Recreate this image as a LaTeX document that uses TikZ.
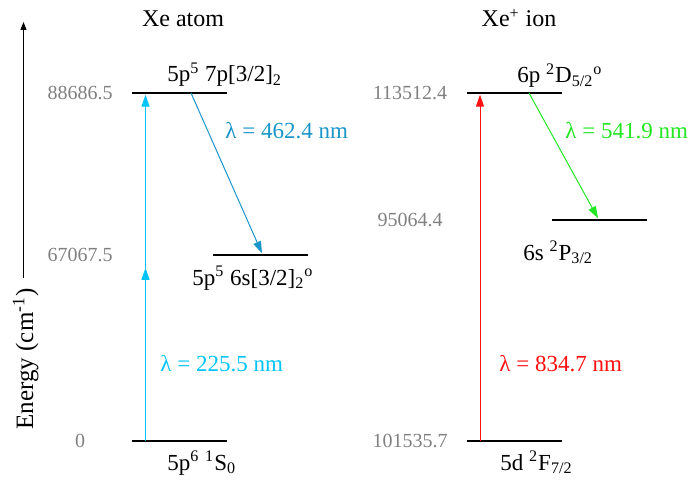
\documentclass[tikz,border=0pt]{standalone}
\usepackage{fontspec}
\setmainfont{Liberation Serif}
\usetikzlibrary{arrows.meta, calc}
\definecolor{uvcyan}{HTML}{00C4F8}
\definecolor{blueline}{HTML}{1A96C8}
\definecolor{irred}{HTML}{FF1010}
\definecolor{visgreen}{HTML}{22E622}
\definecolor{numgray}{HTML}{808080}

\begin{document}
\begin{tikzpicture}[
  x=0.5pt, y=-0.5pt,
  lvl/.style={fill=black, minimum width=47.5pt, minimum height=1.3pt, inner sep=0pt},
  trans/.style={line width=0.5pt, -{Triangle[length=6pt,width=4pt]}},
  energy/.style={font=\fontsize{10}{12}\selectfont, color=numgray, inner sep=0pt},
  state/.style={font=\fontsize{11.5}{13}\selectfont, anchor=base west, inner sep=0pt},
  wave/.style={font=\fontsize{11.5}{13}\selectfont, anchor=base west, inner sep=0pt},
  title/.style={font=\fontsize{12}{14}\selectfont, anchor=base, inner sep=0pt},
]
\useasboundingbox (0,0) rectangle (688,481);

% energy axis
\node[rotate=90, anchor=base, inner sep=0pt, font=\fontsize{12.5}{14}\selectfont]
  (elabel) at (33,359) {Energy (cm\textsuperscript{-1})};
\coordinate (axisbot) at (23.5,278);
\coordinate (axistop) at (23.5,22);
\draw[line width=0.5pt, -{Triangle[length=4pt,width=3pt]}] (axisbot) -- (axistop);

% titles
\node[title] (xetitle) at (183,27) {Xe atom};
\node[title] (iontitle) at (519,27) {Xe\textsuperscript{+} ion};

% Xe atom levels
\node[lvl] (xe0) at (179.5,441) {};
\node[lvl] (xe1) at (260.5,255) {};
\node[lvl] (xe2) at (179.5,93) {};
\node[energy] (e0) at (80,441) {0};
\node[energy] (e1) at (80,255) {67067.5};
\node[energy] (e2) at (80,93) {88686.5};
\node[state] (s0) at (167,470) {5p\textsuperscript{6} \textsuperscript{1}S\textsubscript{0}};
\node[state] (s1) at (192,285) {5p\textsuperscript{5} 6s[3/2]\textsubscript{2}\textsuperscript{o}};
\node[state] (s2) at (167,82) {5p\textsuperscript{5} 7p[3/2]\textsubscript{2}};

% Xe+ ion levels
\node[lvl] (ion0) at (514.5,441) {};
\node[lvl] (ion1) at (599,220) {};
\node[lvl] (ion2) at (514.5,93) {};
\node[energy] (i0) at (410,441) {101535.7};
\node[energy] (i1) at (410,220) {95064.4};
\node[energy] (i2) at (410,93) {113512.4};
\node[state] (t0) at (500,470) {5d \textsuperscript{2}F\textsubscript{7/2}};
\node[state] (t1) at (523,260) {6s \textsuperscript{2}P\textsubscript{3/2}};
\node[state] (t2) at (517,83) {6p \textsuperscript{2}D\textsubscript{5/2}\textsuperscript{o}};

% transitions
\coordinate (uvbot) at ($(xe0.center)+(-34,0)$);
\coordinate (uvtop) at ($(xe2.south)+(-34,0)$);
\coordinate (uvmid) at ($(uvbot)!0.5!(uvtop)$);
\draw[trans, uvcyan, line width=0.7pt] (uvbot) -- (uvmid);
\draw[trans, uvcyan, line width=0.7pt] (uvmid) -- (uvtop);
\draw[trans, blueline] ($(xe2.center)+(11.5,0)$) -- ($(xe1.north)+(1.5,0)$);
\draw[trans, irred] ($(ion0.center)+(-34.5,0)$) -- ($(ion2.south)+(-34.5,0)$);
\draw[trans, visgreen] ($(ion2.center)+(14.5,0)$) -- ($(ion1.north)+(-1,0)$);

\node[wave, blueline] (w1) at (225,138) {λ = 462.4 nm};
\node[wave, uvcyan] (w2) at (160,371) {λ = 225.5 nm};
\node[wave, visgreen] (w3) at (565,138) {λ = 541.9 nm};
\node[wave, irred] (w4) at (499,371) {λ = 834.7 nm};
\end{tikzpicture}
\end{document}
